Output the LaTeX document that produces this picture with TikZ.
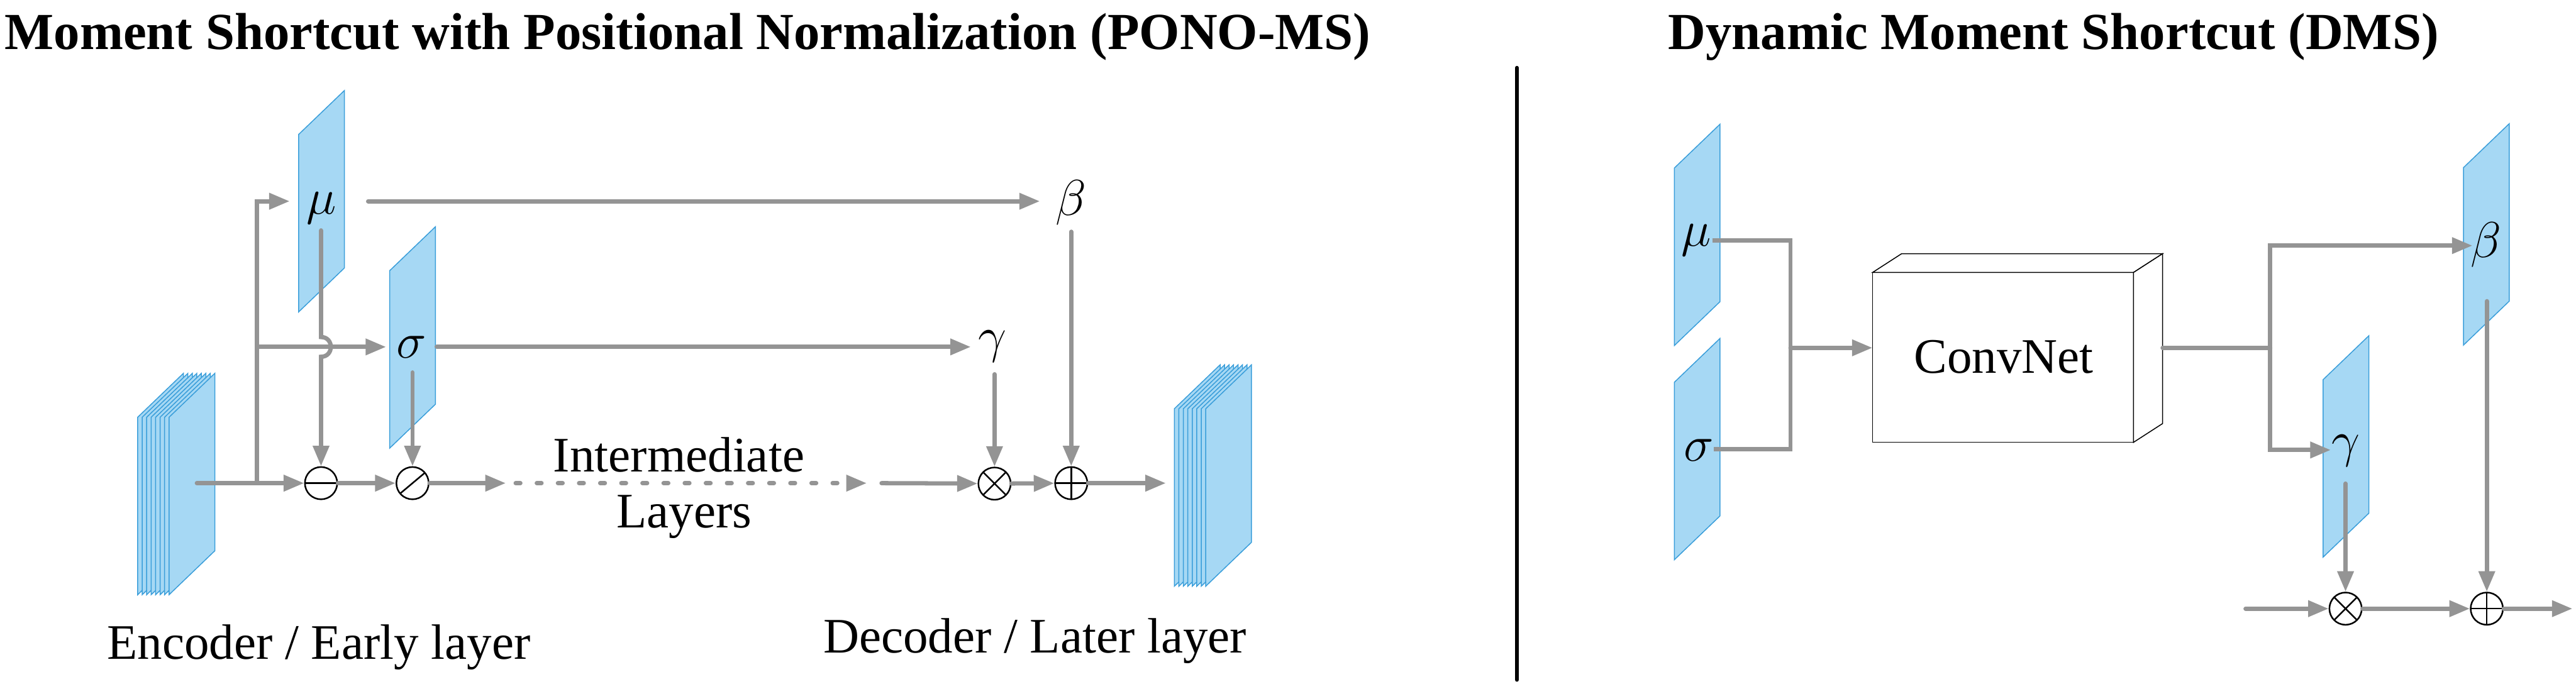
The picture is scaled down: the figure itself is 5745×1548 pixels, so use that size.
\RequirePackage{fix-cm}
\documentclass[tikz,border=0pt]{standalone}
\usepackage{fontspec}
\setmainfont{Liberation Serif}
\usetikzlibrary{arrows.meta}
\definecolor{arrowgray}{RGB}{148,148,148}
\definecolor{planefill}{RGB}{166,216,244}
\definecolor{planeedge}{RGB}{58,158,218}
\tikzset{
  conn/.style={draw=arrowgray, line width=2.7pt, line cap=round},
  arr/.style={conn, -{Triangle[length=13pt,width=10pt]}},
  plane/.style={fill=planefill, draw=planeedge, line width=0.6pt},
  boxline/.style={draw=black, line width=0.6pt},
  op/.style={circle, draw=black, line width=1pt, minimum size=0.72cm, inner sep=0pt, fill=white},
  opminus/.style={op, path picture={\draw[line width=1pt] (path picture bounding box.west) -- (path picture bounding box.east);}},
  opplus/.style={op, path picture={\draw[line width=1pt] (path picture bounding box.west) -- (path picture bounding box.east) (path picture bounding box.north) -- (path picture bounding box.south);}},
  optimes/.style={op, path picture={\draw[line width=1pt] ([shift={(45:0.36cm)}]path picture bounding box.center) -- ([shift={(225:0.36cm)}]path picture bounding box.center) ([shift={(135:0.36cm)}]path picture bounding box.center) -- ([shift={(315:0.36cm)}]path picture bounding box.center);}},
  opdiv/.style={op, path picture={\draw[line width=1pt] ([shift={(40:0.36cm)}]path picture bounding box.center) -- ([shift={(220:0.36cm)}]path picture bounding box.center);}},
  greek/.style={inner sep=0pt, font=\fontsize{32}{32}\selectfont},
  lbl/.style={inner sep=0pt, anchor=base, font=\fontsize{31.5}{36}\selectfont},
  ttl/.style={inner sep=0pt, anchor=base west, font=\fontsize{33}{38}\selectfont\bfseries},
}
\newcommand\myplane[2]{\draw[plane] (#1,#2) -- ++(102,-98) -- ++(0,396) -- ++(-102,98) -- cycle;}
\begin{document}
\begin{tikzpicture}[x=0.01cm, y=-0.01cm]
\useasboundingbox (0,0) rectangle (5745,1548);

% ---------- titles ----------
\node[ttl] (t1) at (10,110) {Moment Shortcut with Positional Normalization (PONO-MS)};
\node[ttl] (t2) at (3720,110) {Dynamic Moment Shortcut (DMS)};

% separator
\coordinate (sepT) at (3383,151);
\coordinate (sepB) at (3383,1517);
\draw[line width=2.3pt, line cap=round] (sepT) -- (sepB);

% ---------- left: planes ----------
\foreach \i in {0,...,7} { \myplane{307+10*\i}{931} }
\myplane{666}{300}
\myplane{869}{604}
\foreach \i in {0,...,7} { \myplane{2619+10*\i}{912} }

% operators
\node[opminus] (minus) at (716,1078) {};
\node[opdiv] (div) at (920,1078) {};
\node[optimes] (times1) at (2218,1079) {};
\node[opplus] (plus1) at (2389,1078) {};

% greek labels
\node[greek] (mu1) at (717,464) {$\mu$};
\node[greek] (sig1) at (918,774) {$\sigma$};
\node[greek] (gam1) at (2213,773) {$\gamma$};
\node[greek] (bet1) at (2389,452) {$\beta$};

% coordinates
\coordinate (encout) at (439,1078);
\coordinate (br1) at (573,1078);
\coordinate (muin) at (646,449);
\coordinate (br2) at (573,774);
\coordinate (sigin) at (861,774);
\coordinate (muout) at (821,449);
\coordinate (betin) at (2319,449);
\coordinate (sigout) at (974,774);
\coordinate (gamin) at (2165,774);
\coordinate (gamout) at (2218,835);
\coordinate (betout) at (2389,517);
\coordinate (muvs) at (716,514);
\coordinate (hopA) at (716,752);
\coordinate (hopB) at (716,796);
\coordinate (sigvs) at (920,831);
\coordinate (divend) at (1128,1078);
\coordinate (dotS) at (1150,1078);
\coordinate (dotE) at (1933,1078);
\coordinate (resS) at (1966,1078);
\coordinate (decin) at (2600,1078);

% connectors left
\draw[arr] (encout) -- (minus);
\draw[arr] (br1) |- (muin);
\draw[arr] (br2) -- (sigin);
\draw[arr] (muvs) -- (hopA) .. controls (745,752) and (745,796) .. (hopB) -- (minus);
\draw[arr] (sigvs) -- (div);
\draw[arr] (minus) -- (div);
\draw[arr] (div) -- (divend);
\draw[conn, dash pattern=on 3pt off 10.4pt, -{Triangle[length=13pt,width=10pt]}] (dotS) -- (dotE);
\draw[arr] (resS) -- (times1);
\draw[arr] (muout) -- (betin);
\draw[arr] (sigout) -- (gamin);
\draw[arr] (gamout) -- (times1);
\draw[arr] (betout) -- (plus1);
\draw[arr] (times1) -- (plus1);
\draw[arr] (plus1) -- (decin);

% text left
\node[lbl] (enc) at (711,1471) {Encoder / Early layer};
\node[lbl] (dec) at (2308,1457) {Decoder / Later layer};
\node[lbl] (int1) at (1514,1053) {Intermediate};
\node[lbl] (int2) at (1526,1177) {Layers};

% ---------- right: DMS ----------
\myplane{3734}{375}
\myplane{3734}{853}
\myplane{5181}{847}
\myplane{5494}{374}

% ConvNet cuboid
\draw[boxline, fill=white] (4176,608) rectangle (4758,987);
\draw[boxline, fill=white] (4176,608) -- (4241,566) -- (4823,566) -- (4758,608) -- cycle;
\draw[boxline, fill=white] (4758,608) -- (4823,566) -- (4823,945) -- (4758,987) -- cycle;
\node[lbl] (conv) at (4469,832) {ConvNet};

\node[optimes] (times2) at (5231,1358) {};
\node[opplus] (plus2) at (5546,1358) {};

\node[greek] (mu2) at (3783,536) {$\mu$};
\node[greek] (sig2) at (3789,1004) {$\sigma$};
\node[greek] (bet2) at (5544,546) {$\beta$};
\node[greek] (gam2) at (5231,1005) {$\gamma$};

\coordinate (m2o) at (3819,536);
\coordinate (jt) at (3993,536);
\coordinate (jb) at (3993,1002);
\coordinate (s2o) at (3822,1002);
\coordinate (jn) at (3993,776);
\coordinate (convin) at (4176,776);
\coordinate (convout) at (4823,776);
\coordinate (br3) at (5063,776);
\coordinate (betin2) at (5514,548);
\coordinate (gamin2) at (5198,1004);
\coordinate (gam2out) at (5231,1079);
\coordinate (bet2out) at (5546,672);
\coordinate (in2) at (5008,1358);
\coordinate (out2) at (5737,1358);

\draw[conn, line cap=butt] (m2o) -- (jt) -- (jb) -- (s2o);
\draw[arr] (jn) -- (convin);
\draw[conn] (convout) -- (br3);
\draw[arr] (br3) |- (betin2);
\draw[arr] (br3) |- (gamin2);
\draw[arr] (gam2out) -- (times2);
\draw[arr] (bet2out) -- (plus2);
\draw[arr] (in2) -- (times2);
\draw[arr] (times2) -- (plus2);
\draw[arr] (plus2) -- (out2);
\end{tikzpicture}
\end{document}
